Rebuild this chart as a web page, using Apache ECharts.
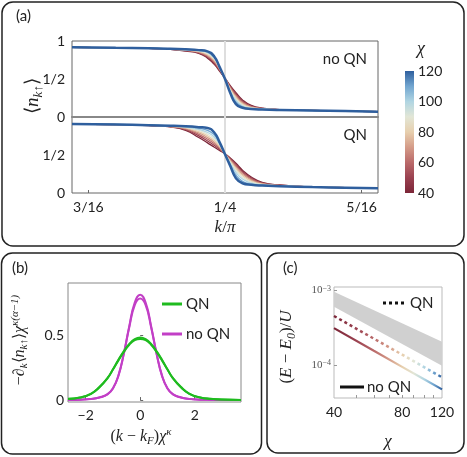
<!DOCTYPE html>
<html>
<head>
<meta charset="utf-8">
<script src="https://cdn.jsdelivr.net/npm/echarts@6.0.0/dist/echarts.min.js"></script>
<style>
  html, body { margin: 0; padding: 0; background: #fff; }
  #main { width: 467px; height: 457px; }
</style>
</head>
<body>
<div id="main"></div>
<script>
// ---- data ----
// (a) occupation <n_k> vs k/pi, one curve per bond dimension chi
const chiValues = [40, 50, 60, 70, 80, 90, 100, 110, 120]
const chiColors = ['#7c2638', '#9a4150', '#ba6a6a', '#d49b88', '#e7cfae', '#e2e6d6', '#b0d5e2', '#72a6d0', '#2f5f9e']
const kGrid = [0.180, 0.200, 0.215, 0.225, 0.232, 0.238, 0.242, 0.245, 0.2475, 0.250, 0.2525, 0.255, 0.258, 0.262, 0.267, 0.275, 0.290, 0.305, 0.320]
const nNoQN = [
  [0.917, 0.910, 0.903, 0.889, 0.868, 0.838, 0.775, 0.695, 0.605, 0.510, 0.410, 0.320, 0.225, 0.152, 0.117, 0.098, 0.086, 0.078, 0.070],
  [0.917, 0.910, 0.903, 0.891, 0.872, 0.845, 0.787, 0.710, 0.615, 0.509, 0.398, 0.303, 0.210, 0.143, 0.114, 0.097, 0.086, 0.078, 0.070],
  [0.917, 0.910, 0.904, 0.892, 0.876, 0.852, 0.800, 0.725, 0.625, 0.508, 0.386, 0.287, 0.196, 0.136, 0.112, 0.096, 0.086, 0.078, 0.070],
  [0.917, 0.910, 0.904, 0.894, 0.879, 0.858, 0.812, 0.740, 0.635, 0.506, 0.374, 0.270, 0.183, 0.130, 0.110, 0.096, 0.086, 0.078, 0.070],
  [0.917, 0.910, 0.904, 0.895, 0.882, 0.863, 0.824, 0.755, 0.643, 0.505, 0.362, 0.253, 0.170, 0.124, 0.108, 0.095, 0.086, 0.078, 0.070],
  [0.917, 0.910, 0.904, 0.896, 0.885, 0.868, 0.835, 0.768, 0.650, 0.504, 0.349, 0.236, 0.158, 0.119, 0.106, 0.095, 0.086, 0.078, 0.070],
  [0.917, 0.910, 0.905, 0.897, 0.887, 0.873, 0.845, 0.780, 0.655, 0.503, 0.336, 0.218, 0.145, 0.113, 0.103, 0.094, 0.085, 0.078, 0.070],
  [0.917, 0.910, 0.905, 0.897, 0.889, 0.877, 0.855, 0.790, 0.658, 0.502, 0.323, 0.195, 0.132, 0.108, 0.100, 0.093, 0.085, 0.078, 0.070],
  [0.917, 0.910, 0.905, 0.898, 0.890, 0.880, 0.864, 0.800, 0.660, 0.500, 0.310, 0.170, 0.122, 0.105, 0.098, 0.092, 0.085, 0.078, 0.070]
]
const nQN = [
  [0.908, 0.900, 0.888, 0.870, 0.825, 0.730, 0.660, 0.605, 0.560, 0.515, 0.458, 0.392, 0.300, 0.210, 0.140, 0.105, 0.080, 0.070, 0.062],
  [0.908, 0.900, 0.889, 0.872, 0.834, 0.752, 0.685, 0.628, 0.575, 0.514, 0.448, 0.375, 0.283, 0.196, 0.132, 0.102, 0.080, 0.070, 0.062],
  [0.908, 0.901, 0.890, 0.874, 0.842, 0.772, 0.708, 0.650, 0.590, 0.514, 0.438, 0.358, 0.266, 0.183, 0.126, 0.100, 0.079, 0.070, 0.062],
  [0.908, 0.901, 0.890, 0.876, 0.850, 0.790, 0.730, 0.672, 0.604, 0.513, 0.426, 0.340, 0.248, 0.170, 0.120, 0.098, 0.079, 0.070, 0.062],
  [0.908, 0.901, 0.891, 0.878, 0.857, 0.807, 0.752, 0.694, 0.618, 0.513, 0.414, 0.320, 0.229, 0.157, 0.115, 0.096, 0.079, 0.070, 0.062],
  [0.908, 0.901, 0.891, 0.880, 0.863, 0.823, 0.775, 0.716, 0.632, 0.512, 0.401, 0.298, 0.208, 0.143, 0.111, 0.094, 0.079, 0.070, 0.062],
  [0.908, 0.902, 0.892, 0.882, 0.869, 0.838, 0.798, 0.740, 0.646, 0.512, 0.386, 0.272, 0.183, 0.130, 0.106, 0.093, 0.078, 0.070, 0.062],
  [0.908, 0.902, 0.892, 0.883, 0.874, 0.853, 0.825, 0.768, 0.658, 0.511, 0.369, 0.237, 0.155, 0.118, 0.102, 0.091, 0.078, 0.070, 0.062],
  [0.908, 0.902, 0.893, 0.885, 0.877, 0.866, 0.855, 0.800, 0.670, 0.510, 0.350, 0.195, 0.128, 0.108, 0.098, 0.090, 0.078, 0.070, 0.062]
]
const kF = 0.25
const kTickValues = [3 / 16, 1 / 4, 5 / 16]
const kTickLabels = ['3/16', '1/4', '5/16']
const nTickValues = [0, 0.5, 1]
const nTickLabels = ['0', '1/2', '1']
const cbarTicks = [40, 60, 80, 100, 120]

// (b) rescaled derivative vs (k - kF) chi^kappa
const xScaled = [-2.65, -2.2, -1.8, -1.5, -1.2, -1.0, -0.8, -0.6, -0.4, -0.2, 0, 0.2, 0.4, 0.6, 0.8, 1.0, 1.2, 1.5, 1.8, 2.2, 2.6, 3.0, 3.7]
const derivQN = [
  [0.010, 0.020, 0.050, 0.100, 0.170, 0.235, 0.305, 0.370, 0.425, 0.460, 0.470, 0.460, 0.425, 0.370, 0.305, 0.235, 0.170, 0.100, 0.050, 0.020, 0.010, 0.004, 0.001],
  [0.009, 0.019, 0.048, 0.096, 0.167, 0.236, 0.309, 0.376, 0.432, 0.468, 0.480, 0.468, 0.432, 0.376, 0.309, 0.236, 0.167, 0.096, 0.048, 0.019, 0.009, 0.004, 0.001]
]
const derivNoQN = [
  [0.001, 0.003, 0.009, 0.020, 0.045, 0.090, 0.190, 0.360, 0.570, 0.750, 0.810, 0.750, 0.570, 0.360, 0.190, 0.090, 0.045, 0.020, 0.009, 0.003, 0.001, 0.000, 0.000],
  [0.001, 0.003, 0.008, 0.019, 0.043, 0.088, 0.185, 0.355, 0.560, 0.730, 0.780, 0.730, 0.560, 0.355, 0.185, 0.088, 0.043, 0.019, 0.008, 0.003, 0.001, 0.000, 0.000]
]
const bXTicks = [-2, 0, 2]
const bYTicks = [0, 0.5]

// (c) energy error vs chi (log-log)
const chiC = [40, 60, 80, 100, 120]
const energyQN = [4.5e-4, 2.24e-4, 1.37e-4, 9.3e-5, 6.8e-5]
const energyNoQN = [3.1e-4, 1.54e-4, 9.4e-5, 6.4e-5, 4.7e-5]
const bandChi = [40, 120]
const bandLow = [6.0e-4, 9.7e-5]
const bandHigh = [9.5e-4, 2.03e-4]
const cXTicks = [40, 80, 120]
const cYTicks = [1e-4, 1e-3]

// ---- chart ----
const chart = echarts.init(document.getElementById('main'))
const sans = 'Lato'
const serif = 'Liberation Serif'
const ink = '#222'

function pick(values, labels) {
  return v => {
    const i = values.findIndex(t => Math.abs(t - v) < 1e-9)
    return i < 0 ? '' : labels[i]
  }
}

function zip(xs, ys) {
  return xs.map((x, j) => [x, ys[j]])
}

const tickLabel = { color: ink, fontFamily: sans, fontSize: 14 }

const series = []

// vertical guide at kF in both halves of (a)
;[0, 1].forEach(g => {
  series.push({
    type: 'line', xAxisIndex: g, yAxisIndex: g, data: [[kF, 0], [kF, 1]],
    symbol: 'none', silent: true, z: 1,
    lineStyle: { color: '#dedede', width: 2 }
  })
})

chiValues.forEach((chi, i) => {
  const last = i === chiValues.length - 1
  series.push({
    name: 'noQN ' + chi, type: 'line', xAxisIndex: 0, yAxisIndex: 0,
    data: zip(kGrid, nNoQN[i]), smooth: 0.5, symbol: 'none',
    lineStyle: { color: chiColors[i], width: last ? 2.5 : 1.3 }
  })
  series.push({
    name: 'QN ' + chi, type: 'line', xAxisIndex: 1, yAxisIndex: 1,
    data: zip(kGrid, nQN[i]), smooth: 0.5, symbol: 'none',
    lineStyle: { color: chiColors[i], width: last ? 2.5 : 1.3 }
  })
})

// colour bar
series.push({
  type: 'bar', xAxisIndex: 2, yAxisIndex: 2, stack: 'cb', data: [cbarTicks[0]],
  barWidth: '100%', itemStyle: { color: 'rgba(0,0,0,0)' }, silent: true
})
series.push({
  type: 'bar', xAxisIndex: 2, yAxisIndex: 2, stack: 'cb',
  data: [cbarTicks[cbarTicks.length - 1] - cbarTicks[0]],
  barWidth: '100%', silent: true,
  itemStyle: {
    color: new echarts.graphic.LinearGradient(0, 1, 0, 0,
      chiColors.map((c, i) => ({ offset: i / (chiColors.length - 1), color: c })))
  }
})

// (b)
derivNoQN.forEach(row => {
  series.push({
    type: 'line', xAxisIndex: 3, yAxisIndex: 3, data: zip(xScaled, row),
    smooth: 0.5, symbol: 'none', lineStyle: { color: '#c23fc6', width: 2 }
  })
})
derivQN.forEach(row => {
  series.push({
    type: 'line', xAxisIndex: 3, yAxisIndex: 3, data: zip(xScaled, row),
    smooth: 0.5, symbol: 'none', lineStyle: { color: '#1fbb1f', width: 2 }
  })
})

// (c)
series.push({
  type: 'custom', xAxisIndex: 4, yAxisIndex: 4, silent: true,
  data: [[bandChi[0], bandLow[0]]],
  renderItem: (params, api) => {
    const upper = bandChi.map((c, i) => api.coord([c, bandHigh[i]]))
    const lower = bandChi.map((c, i) => api.coord([c, bandLow[i]])).reverse()
    return { type: 'polygon', shape: { points: upper.concat(lower) }, style: { fill: '#d0d0d0' } }
  }
})
const qnIndex = series.length
series.push({
  type: 'line', xAxisIndex: 4, yAxisIndex: 4, data: zip(chiC, energyQN),
  symbol: 'none', lineStyle: { width: 2.5, type: [3, 3] }
})
const noQnIndex = series.length
series.push({
  type: 'line', xAxisIndex: 4, yAxisIndex: 4, data: zip(chiC, energyNoQN),
  symbol: 'none', lineStyle: { width: 2.2 }
})

const hidden = { show: false }

const option = {
  animation: false,
  grid: [
    { left: 72, top: 41, width: 306, height: 76, show: true, borderColor: '#666', borderWidth: 1 },
    { left: 72, top: 117, width: 306, height: 76, show: true, borderColor: '#666', borderWidth: 1 },
    { left: 405, top: 71, width: 9, height: 122 },
    { left: 68, top: 283, width: 173, height: 119, show: true, borderColor: '#888', borderWidth: 1 },
    { left: 334, top: 287, width: 108, height: 111, show: true, borderColor: '#bbb', borderWidth: 1 }
  ],
  xAxis: [
    { gridIndex: 0, type: 'value', min: 0.18, max: 0.32, axisLabel: hidden, axisTick: hidden, splitLine: hidden,
      axisLine: { show: true, onZero: false, lineStyle: { color: '#888', width: 2 } } },
    { gridIndex: 1, type: 'value', min: 0.18, max: 0.32, splitLine: hidden, axisLine: hidden,
      axisTick: { show: true, inside: true, length: 3, customValues: kTickValues, lineStyle: { color: '#666' } },
      axisLabel: Object.assign({ customValues: kTickValues, formatter: pick(kTickValues, kTickLabels), margin: 7 }, tickLabel) },
    { gridIndex: 2, type: 'category', data: ['chi'], show: false },
    { gridIndex: 3, type: 'value', min: -2.65, max: 3.7, splitLine: hidden, axisLine: hidden,
      axisTick: { show: true, inside: true, length: 3, customValues: bXTicks, lineStyle: { color: '#666' } },
      axisLabel: Object.assign({ customValues: bXTicks, formatter: v => (v < 0 ? '\u2212' + Math.abs(v) : String(v)), margin: 6 }, tickLabel) },
    { gridIndex: 4, type: 'log', logBase: 10, min: 40, max: 120, splitLine: hidden, axisLine: hidden,
      axisTick: { show: true, inside: true, length: 3, customValues: [50, 60, 70, 80, 90, 100, 110], lineStyle: { color: '#999' } },
      axisLabel: Object.assign({ customValues: cXTicks, formatter: v => String(Math.round(v)), margin: 7 }, tickLabel) }
  ],
  yAxis: [
    { gridIndex: 0, type: 'value', min: 0, max: 1, splitLine: hidden, axisLine: hidden, axisTick: hidden,
      axisLabel: Object.assign({ customValues: nTickValues, formatter: pick(nTickValues, nTickLabels), margin: 7 }, tickLabel) },
    { gridIndex: 1, type: 'value', min: 0, max: 1, splitLine: hidden, axisLine: hidden, axisTick: hidden,
      axisLabel: Object.assign({ customValues: nTickValues.slice(0, 2), formatter: pick(nTickValues, nTickLabels), margin: 7 }, tickLabel) },
    { gridIndex: 2, type: 'value', min: 40, max: 120, interval: 20, position: 'right', splitLine: hidden,
      axisLine: hidden, axisTick: hidden, axisLabel: Object.assign({ margin: 4 }, tickLabel) },
    { gridIndex: 3, type: 'value', min: -0.015, max: 0.9, splitLine: hidden, axisLine: hidden,
      axisTick: { show: true, inside: true, length: 3, customValues: bYTicks, lineStyle: { color: '#666' } },
      axisLabel: Object.assign({ customValues: bYTicks, formatter: v => (v === 0 ? '0' : '0.5'), margin: 4 }, tickLabel) },
    { gridIndex: 4, type: 'log', logBase: 10, min: 3.6e-5, max: 1.1e-3, splitLine: hidden, axisLine: hidden,
      axisTick: { show: true, inside: true, length: 3, customValues: cYTicks, lineStyle: { color: '#999' } },
      axisLabel: {
        customValues: cYTicks, margin: 3, color: '#555', fontFamily: serif, fontSize: 11,
        formatter: v => (v < 5e-4 ? '10{s|\u22124}' : '10{s|\u22123}'),
        rich: { s: { fontSize: 8, fontFamily: serif, color: '#555', verticalAlign: 'top', lineHeight: 8, padding: [0, 0, 8, 0] } }
      } }
  ],
  visualMap: [{
    type: 'continuous', show: false, dimension: 0, seriesIndex: [qnIndex, noQnIndex],
    min: 40, max: 120, inRange: { color: chiColors }
  }],
  series: series,
  graphic: buildGraphics()
}

function txt(x, y, text, extra) {
  return Object.assign({
    type: 'text', x: x, y: y, silent: true,
    style: Object.assign({ text: text, fill: ink, fontFamily: sans, fontSize: 15, align: 'left', verticalAlign: 'middle' }, extra && extra.style)
  }, extra && extra.props)
}

function seg(x1, y1, x2, y2, color, dash) {
  return {
    type: 'line', silent: true, shape: { x1: x1, y1: y1, x2: x2, y2: y2 },
    style: { stroke: color, lineWidth: 3, lineDash: dash || null }
  }
}

function buildGraphics() {
  const box = (x, y, w, h) => ({
    type: 'rect', silent: true, shape: { x: x, y: y, width: w, height: h, r: 11 },
    style: { fill: null, stroke: '#222', lineWidth: 1.5 }
  })
  const mathRich = (size) => ({
    i: { fontFamily: serif, fontStyle: 'italic', fontSize: size },
    r: { fontFamily: serif, fontSize: size },
    s: { fontFamily: serif, fontStyle: 'italic', fontSize: Math.round(size * 0.7), verticalAlign: 'bottom', lineHeight: Math.round(size * 0.7) },
    p: { fontFamily: serif, fontStyle: 'italic', fontSize: Math.round(size * 0.7), verticalAlign: 'top', lineHeight: Math.round(size * 0.7) }
  })
  const math = (x, y, text, rot, size) => {
    const fs = size || 16
    return {
      type: 'text', x: x, y: y, rotation: rot || 0, silent: true,
      style: { text: text, rich: mathRich(fs), fill: ink, fontFamily: serif, fontSize: fs, lineHeight: Math.round(fs * 1.25), align: 'center', verticalAlign: 'middle' }
    }
  }
  return [
    box(2, 2, 462, 244),
    box(1.5, 253, 260, 201),
    box(267, 253, 197, 200),
    txt(16, 16, '(a)'),
    txt(12, 268, '(b)'),
    txt(283, 268, '(c)'),
    txt(367, 59, 'no QN', { style: { align: 'right' } }),
    txt(367, 135, 'QN', { style: { align: 'right' } }),
    math(421, 49, '{i|\u03c7}', 0, 18),
    math(225, 228, '{i|k}{r|/}{i|\u03c0}', 0, 17),
    math(33, 96, '{r|\u27e8}{i|n}{s|k\u2191}{r|\u27e9}', Math.PI / 2, 19),
    math(20, 340, '{r|\u2212\u2202}{s|k}{r|\u27e8}{i|n}{s|k\u2191}{r|\u27e9}{i|\u03c7}{p|\u03ba(\u03b1\u22121)}', Math.PI / 2, 16),
    math(141, 437, '{r|(}{i|k}{r| \u2212 }{i|k}{s|F}{r|)}{i|\u03c7}{p|\u03ba}', 0, 16),
    math(287, 347, '{r|(}{i|E}{r| \u2212 }{i|E}{s|0}{r|)/}{i|U}', Math.PI / 2, 17),
    math(388, 442, '{i|\u03c7}', 0, 17),
    seg(162, 304, 182, 304, '#1fbb1f'),
    txt(186, 304, 'QN'),
    seg(162, 334, 182, 334, '#c23fc6'),
    txt(186, 334, 'no QN'),
    seg(383, 303, 407, 303, '#111', [3, 3]),
    txt(410, 303, 'QN'),
    seg(340, 387, 364, 387, '#111'),
    txt(367, 387, 'no QN')
  ]
}

chart.setOption(option)
</script>
</body>
</html>
